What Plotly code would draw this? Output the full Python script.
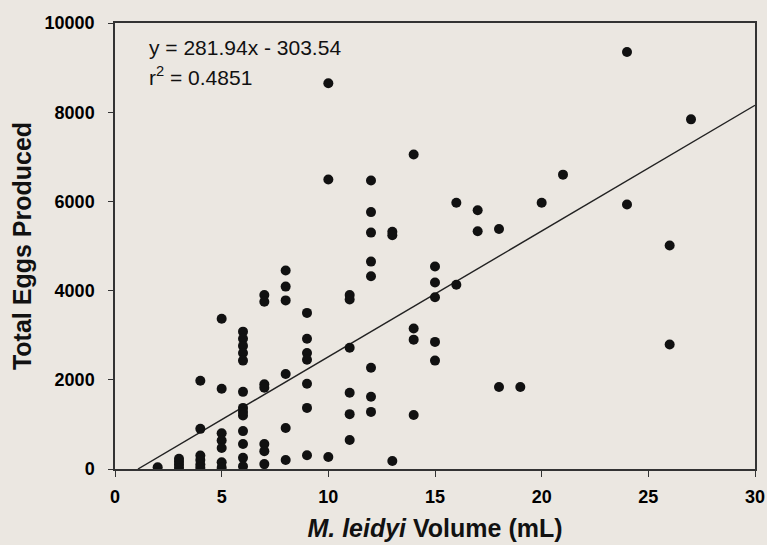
import plotly.graph_objects as go

# Data (volume in mL, total eggs produced)
volume_ml = (
    [2]
    + [3] * 4
    + [4] * 6
    + [5] * 7
    + [6] * 13
    + [7] * 7
    + [8] * 6
    + [9] * 7
    + [10] * 3
    + [11] * 6
    + [12] * 8
    + [13] * 3
    + [14] * 4
    + [15] * 5
    + [16] * 2
    + [17] * 2
    + [18] * 2
    + [19]
    + [20]
    + [21]
    + [24] * 2
    + [26] * 2
    + [27]
)
total_eggs = (
    [40]
    + [30, 100, 170, 230]
    + [1980, 900, 300, 200, 100, 30]
    + [3370, 1800, 800, 640, 470, 150, 30]
    + [3080, 2920, 2760, 2600, 2430, 1730, 1370, 1280, 1200, 850, 560, 250, 60]
    + [3900, 3750, 1900, 1820, 560, 400, 110]
    + [4450, 4090, 3780, 2130, 920, 200]
    + [3500, 2920, 2600, 2450, 1910, 1370, 310]
    + [8650, 6490, 270]
    + [3900, 3800, 2720, 1710, 1230, 650]
    + [6470, 5760, 5300, 4650, 4320, 2270, 1620, 1280]
    + [5320, 5240, 180]
    + [7050, 3150, 2900, 1210]
    + [4540, 4180, 3850, 2850, 2430]
    + [5970, 4130]
    + [5800, 5330]
    + [5380, 1840]
    + [1840]
    + [5970]
    + [6600]
    + [9350, 5930]
    + [5010, 2790]
    + [7840]
)

slope = 281.94
intercept = -303.54
r_squared = 0.4851
x_range = [0, 30]
y_range = [0, 10000]
x_ticks = [0, 5, 10, 15, 20, 25, 30]
y_ticks = [0, 2000, 4000, 6000, 8000, 10000]

# regression line from the zero crossing to the right edge of the axis
x_start = -intercept / slope
line_x = [x_start, x_range[1]]
line_y = [slope * v + intercept for v in line_x]

bg = "#ebe7e1"
ink = "#111111"
font_family = "Liberation Sans, Arial, sans-serif"

fig = go.Figure()
fig.add_trace(go.Scatter(x=line_x, y=line_y, mode="lines",
                         line=dict(color="#222222", width=1.4),
                         hoverinfo="skip", showlegend=False))
fig.add_trace(go.Scatter(x=volume_ml, y=total_eggs, mode="markers",
                         marker=dict(color=ink, size=10),
                         showlegend=False))

fig.update_layout(
    width=767, height=545,
    margin=dict(l=115, r=12, t=23, b=76),
    paper_bgcolor=bg, plot_bgcolor=bg,
    font=dict(family=font_family, color=ink),
    showlegend=False,
    annotations=[
        dict(xref="paper", yref="paper", x=0.05, y=0.945, xanchor="left",
             yanchor="middle", showarrow=False,
             text=f"y = {slope}x - {abs(intercept)}",
             font=dict(size=21, color=ink, family=font_family)),
        dict(xref="paper", yref="paper", x=0.05, y=0.882, xanchor="left",
             yanchor="middle", showarrow=False,
             text=f"r<sup>2</sup> = {r_squared}",
             font=dict(size=21, color=ink, family=font_family)),
    ],
)

fig.update_xaxes(
    range=x_range, tickvals=x_ticks, ticktext=[str(t) for t in x_ticks],
    showgrid=False, zeroline=False, automargin=False,
    showline=True, linecolor="#333333", linewidth=1.5, mirror=True,
    ticks="outside", ticklen=6, tickcolor="#333333", tickwidth=1.2,
    tickfont=dict(size=18, weight="bold", color="#000000"),
    ticklabelstandoff=5, ticklabeloverflow="allow",
    title=dict(text="<i>M. leidyi</i> Volume (mL)",
               font=dict(size=25, weight="bold", color=ink), standoff=13),
)
fig.update_yaxes(
    range=y_range, tickvals=y_ticks, ticktext=[str(t) for t in y_ticks],
    showgrid=False, zeroline=False, automargin=False,
    showline=True, linecolor="#333333", linewidth=1.5, mirror=True,
    ticks="outside", ticklen=5, tickcolor="#333333", tickwidth=1.2,
    tickfont=dict(size=18, weight="bold", color="#000000"),
    ticklabelstandoff=10, ticklabeloverflow="allow",
    title=dict(text="Total Eggs Produced",
               font=dict(size=25, weight="bold", color=ink), standoff=6),
)

fig.write_html(
    "out.html",
    config={"displayModeBar": False},
    post_script="document.body.style.margin='0';"
                "document.body.style.background='" + bg + "';",
)
